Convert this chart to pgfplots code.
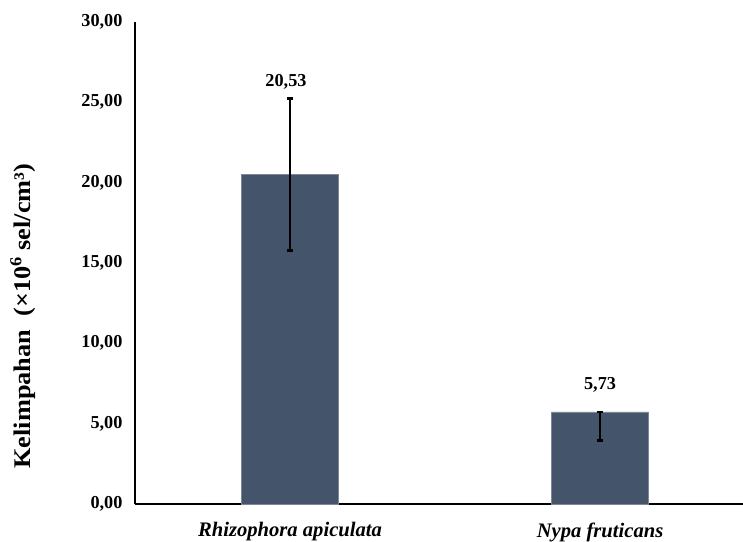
\documentclass[border=0pt]{standalone}
\usepackage{fontspec}
\setmainfont{Liberation Serif}
\newfontfamily\ylabfont[FakeStretch=1.1]{Liberation Serif}
\usepackage{pgfplots}
\pgfplotsset{compat=1.18}
\definecolor{barblue}{HTML}{44546A}

\begin{document}
\begin{tikzpicture}
\pgfkeys{/pgf/number format/assume math mode=true}
\begin{axis}[
    name=ax,
    scale only axis,
    width=608bp, height=482bp,
    xmin=-0.5, xmax=1.461,
    ymin=0, ymax=30,
    axis x line*=bottom, axis y line*=left,
    axis line style={-, line width=1.6bp},
    xtick={0,1},
    xticklabels={Rhizophora apiculata, Nypa fruticans},
    ytick={0,5,...,30},
    major tick length=0pt,
    yticklabel={\pgfmathprintnumber[fixed,fixed zerofill,precision=2,use comma]{\tick}},
    tick label style={font=\fontsize{18.3}{20}\selectfont\bfseries},
    xticklabel style={font=\fontsize{20.7}{22}\selectfont\bfseries\itshape, yshift=-15bp},
    yticklabel style={xshift=-9bp},
    ylabel={Kelimpahan~~(×10\textsuperscript{6} sel/cm³)},
    every axis y label/.style={at={(rel axis cs:0,0.39)}, xshift=-112bp, rotate=90,
        anchor=center, font=\ylabfont\fontsize{24}{26}\selectfont\bfseries},
    clip=false,
]
\addplot[ybar, bar width=97bp, fill=barblue, draw=barblue!70!white,
    error bars/.cd, y dir=both, y explicit,
    error bar style={black, line width=2.8bp},
    error mark options={black, line width=2.8bp, mark size=3bp, rotate=90}]
  coordinates {
    (0,20.53) +- (0,4.73)
    (1,5.73) += (0,0) -= (0,1.8)
  };
% value labels
\addplot[draw=none, mark=none, point meta=explicit,
    nodes near coords={\pgfmathprintnumber[fixed,fixed zerofill,precision=2,use comma]{\pgfplotspointmeta}},
    every node near coord/.style={anchor=center, font=\fontsize{18.3}{20}\selectfont\bfseries}]
  coordinates {
    (-0.013,26.26) [20.53]
    (1,7.40) [5.73]
  };
\end{axis}
\pgfresetboundingbox
\path ([xshift=-135bp,yshift=-38bp]ax.south west) rectangle ([yshift=22bp]ax.north east);
\end{tikzpicture}
\end{document}
